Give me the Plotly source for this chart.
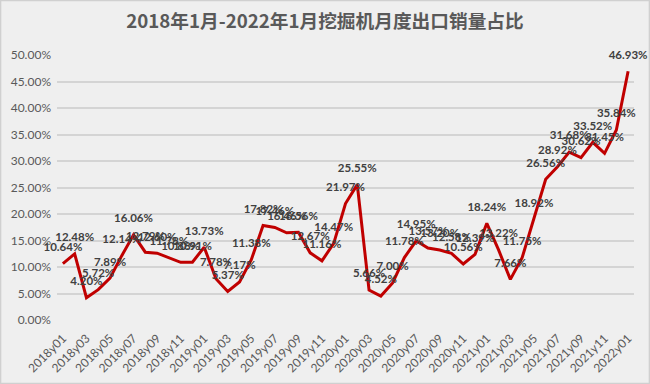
import plotly.graph_objects as go

months = []
for yr in range(2018, 2023):
    for m in range(1, 13):
        months.append(f"{yr}y{m:02d}")
months = months[:49]

values = [
    10.64, 12.48, 4.20, 5.72, 7.89, 12.14, 16.06, 12.79, 12.60, 11.78, 10.88, 10.91,
    13.73, 7.78, 5.37, 7.17, 11.38, 17.82, 17.46, 16.46, 16.56, 12.67, 11.16, 14.47,
    21.97, 25.55, 5.66, 4.52, 7.00, 11.78, 14.95, 13.57, 13.20, 12.58, 10.56, 12.39,
    18.24, 13.22, 7.66, 11.75, 18.92, 26.56, 28.92, 31.68, 30.62, 33.52, 31.45, 35.84,
    46.93,
]
ratio = [v / 100 for v in values]

tick_labels = months[::2]
y_ticks = [i * 0.05 for i in range(11)]

W, H = 650, 384
ML, MR, MT, MB = 57, 16, 55, 64

fig = go.Figure()
fig.add_trace(go.Scatter(
    x=months, y=ratio, mode="lines",
    line=dict(color="#C00000", width=3),
    hoverinfo="skip", showlegend=False,
))
fig.add_trace(go.Scatter(
    x=months, y=ratio, mode="markers+text",
    marker=dict(size=14, opacity=0),
    text=[f"{v:.2f}%" for v in values],
    textposition="top center",
    textfont=dict(family="Lato", size=11.5, color="#404040", weight="bold"),
    hoverinfo="skip", showlegend=False, cliponaxis=False,
))

pw = W - ML - MR
ph = H - MT - MB
fig.add_shape(type="rect", xref="paper", yref="paper",
              x0=-ML / pw + 0.001, x1=1 + MR / pw - 0.001,
              y0=-MB / ph + 0.002, y1=1 + MT / ph - 0.002,
              line=dict(color="#d0d0d0", width=1.5), layer="below")

fig.update_layout(
    width=W, height=H,
    margin=dict(l=ML, r=MR, t=MT, b=MB, autoexpand=False),
    paper_bgcolor="#efefef", plot_bgcolor="#efefef",
    title=dict(text="<b>2018年1月-2022年1月挖掘机月度出口销量占比</b>",
               x=0.5, xanchor="center", y=1 - 21 / H, yanchor="middle",
               automargin=False,
               font=dict(family="Noto Sans CJK SC", size=18.7, color="#595959")),
    xaxis=dict(
        type="category", categoryorder="array", categoryarray=months,
        tickmode="array", tickvals=tick_labels, ticktext=tick_labels,
        tickangle=-45, showgrid=False, showline=False, ticks="",
        ticklabelstandoff=8,
        tickfont=dict(family="Lato", size=12, color="#595959"),
        range=[-0.5, 48.5], automargin=False,
    ),
    yaxis=dict(
        range=[0, 0.5], tickvals=y_ticks, tickformat=".2%",
        showgrid=True, gridcolor="#d4d4d4", gridwidth=1.5,
        zeroline=False, showline=False, ticks="", automargin=False,
        ticklabelstandoff=5,
        tickfont=dict(family="Lato", size=12, color="#595959"),
    ),
)

fig.write_html("out.html",
               config={"displayModeBar": False},
               post_script="document.body.style.margin='0';document.body.style.overflow='hidden';")
